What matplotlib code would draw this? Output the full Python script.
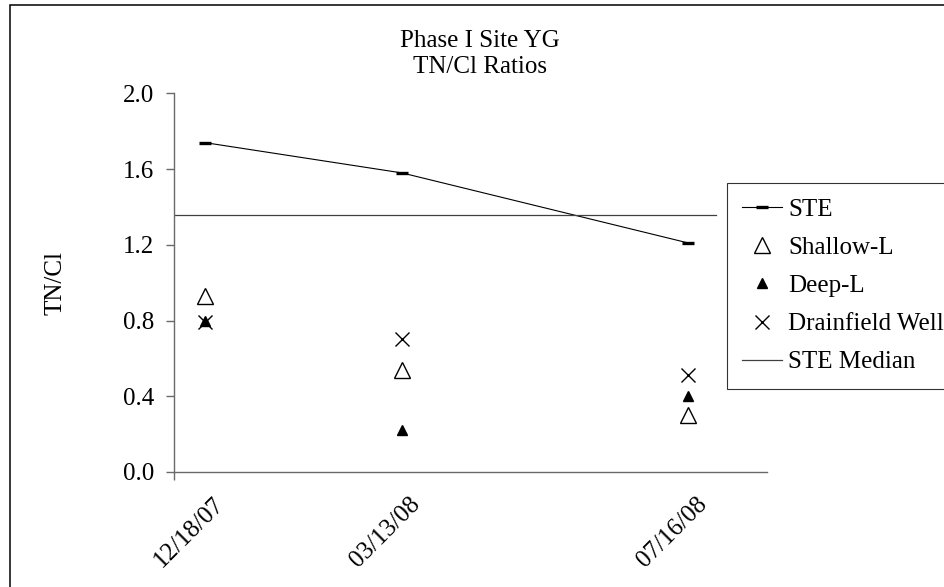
import matplotlib
matplotlib.use('Agg')
import matplotlib.pyplot as plt
import matplotlib.dates as mdates
from matplotlib.patches import Rectangle
from matplotlib.ticker import FormatStrFormatter
from matplotlib.transforms import ScaledTranslation
import numpy as np
import pandas as pd

# ---- data ----
dates = ['2007-12-18', '2008-03-13', '2008-07-16']
date_labels = ['12/18/07', '03/13/08', '07/16/08']
ste = [1.74, 1.58, 1.21]
shallow_l = [0.93, 0.54, 0.30]
deep_l = [0.80, 0.22, 0.40]
drainfield_well = [0.79, 0.70, 0.51]
ste_median = 1.36
median_dates = ['2007-12-04 06:00', '2008-07-28 00:00']
x_range = ['2007-12-04 06:00', '2008-08-19 10:00']

plt.rcParams['font.family'] = ['Liberation Serif', 'DejaVu Serif']
FS = 18
AXIS_GREY = '#6a6a6a'

d = pd.to_datetime(dates)
dm = pd.to_datetime(median_dates)
xr = pd.to_datetime(x_range)

fig = plt.figure(figsize=(9.44, 5.87), dpi=100)
ax = fig.add_axes([0.184, 0.196, 0.6285, 0.6448])

ax.plot(d, ste, color='black', lw=0.8, marker='_', ms=8.6, mew=2.4, label='STE')
ax.plot(d, shallow_l, ls='none', marker='^', ms=12, mfc='white', mec='black', mew=1.0, label='Shallow-L')
ax.plot(d, deep_l, ls='none', marker='^', ms=7.5, color='black', label='Deep-L')
ax.plot(d, drainfield_well, ls='none', marker='x', ms=10, mew=1.0, color='black', label='Drainfield Well')
ax.plot(dm, [ste_median] * len(dm), color='#404040', lw=0.9, label='STE Median')

# axes
for side in ['top', 'right']:
    ax.spines[side].set_visible(False)
for side in ['left', 'bottom']:
    ax.spines[side].set_color(AXIS_GREY)
    ax.spines[side].set_linewidth(1.0)

ax.set_ylim(0, 2.0)
ax.set_yticks(np.arange(0, 2.01, 0.4))
ax.yaxis.set_major_formatter(FormatStrFormatter('%.1f'))
ax.tick_params(axis='y', length=5.8, width=1.0, color=AXIS_GREY, pad=8, labelsize=FS)

ax.set_xlim(xr[0], xr[1])
ax.set_xticks(d)
ax.set_xticklabels(date_labels, rotation=45, ha='right', va='center', rotation_mode='anchor')
ax.tick_params(axis='x', which='major', length=0, pad=20.5, labelsize=FS)
ax.set_xticks([mdates.date2num(xr[0])], minor=True)
ax.tick_params(axis='x', which='minor', length=5.8, width=1.0, color=AXIS_GREY, direction='out')
shift = ScaledTranslation(0.15, 0, fig.dpi_scale_trans)
for lab in ax.get_xticklabels():
    lab.set_transform(lab.get_transform() + shift)

ax.set_ylabel('TN/Cl', fontsize=FS)
ax.yaxis.set_label_coords(-0.18, 0.5)

# title
fig.text(480 / 944, 1 - 47 / 587, 'Phase I Site YG', ha='center', va='baseline', fontsize=FS)
fig.text(480 / 944, 1 - 73 / 587, 'TN/Cl Ratios', ha='center', va='baseline', fontsize=FS)

# legend
leg = fig.legend(loc='upper left', bbox_to_anchor=(727 / 944, 1 - 183 / 587),
                 bbox_transform=fig.transFigure, frameon=True, fancybox=False,
                 edgecolor='black', borderaxespad=0, fontsize=FS, handlelength=1.6,
                 handletextpad=0.25, borderpad=0.6, labelspacing=0.63)
leg.get_frame().set_linewidth(0.8)

# outer chart border (cut off at right and bottom)
fig.add_artist(Rectangle((10 / 944, -0.05), 1.0, 1 - 5 / 587 + 0.05, transform=fig.transFigure,
                         fill=False, ec='black', lw=1.1))

fig.savefig('out.png', dpi=100)
